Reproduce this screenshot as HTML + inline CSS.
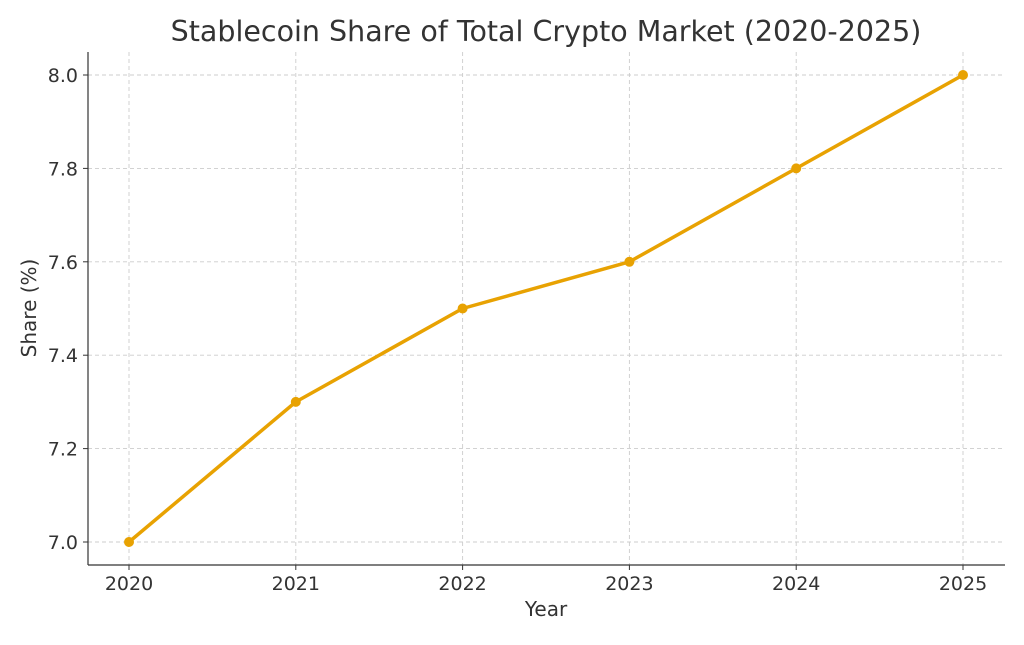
<!DOCTYPE html>
<html><head><meta charset="utf-8"><style>
body{margin:0;background:#fff;}
svg text{font-family:"DejaVu Sans","Liberation Sans",sans-serif;fill:#333;}
</style></head><body>
<svg width="1024" height="640" viewBox="0 0 1024 640" id="chart">
<text x="546" y="41" font-size="28.5" text-anchor="middle">Stablecoin Share of Total Crypto Market (2020-2025)</text>
<g id="grid"></g>
<g id="ticks"></g>
<line x1="88" y1="52" x2="88" y2="565" stroke="#333" stroke-width="1.2"/>
<line x1="88" y1="565" x2="1005" y2="565" stroke="#333" stroke-width="1.2"/>
<g id="series"></g>
<text x="546" y="616" font-size="20" text-anchor="middle">Year</text>
<text x="36" y="308" font-size="20" text-anchor="middle" transform="rotate(-90 36 308)">Share (%)</text>
</svg>
<script>
const years = [2020, 2021, 2022, 2023, 2024, 2025];
const shares = [7.0, 7.3, 7.5, 7.6, 7.8, 8.0];
const yTicks = [7.0, 7.2, 7.4, 7.6, 7.8, 8.0];
const NS = "http://www.w3.org/2000/svg";
function xs(v){ return 129 + (v - 2020) * (963 - 129) / 5; }
function ys(v){ return 542 - (v - 7.0) * (542 - 75) / 1.0; }
function mk(tag, attrs, parent){ const e = document.createElementNS(NS, tag); for (const k in attrs) e.setAttribute(k, attrs[k]); document.getElementById(parent).appendChild(e); return e; }
yTicks.forEach(t => {
  const g = mk('line', {x1:88, x2:1005, y1:ys(t), y2:ys(t), stroke:'#ccc', 'stroke-dasharray':'4,3', 'stroke-width':0.9}, 'grid');
  
  
  const tk = mk('line', {x1:83, x2:88, y1:ys(t), y2:ys(t), stroke:'#333'}, 'ticks');
  
  
  const lb = mk('text', {x:78, y:ys(t)+7, 'font-size':19, 'text-anchor':'end'}, 'ticks');
  lb.textContent = t.toFixed(1);
  
  
});
years.forEach(yr => {
  const g = mk('line', {x1:xs(yr), x2:xs(yr), y1:52, y2:565, stroke:'#ccc', 'stroke-dasharray':'4,3', 'stroke-width':0.9}, 'grid');
  
  
  const tk = mk('line', {x1:xs(yr), x2:xs(yr), y1:565, y2:570, stroke:'#333'}, 'ticks');
  
  
  const lb = mk('text', {x:xs(yr), y:590, 'font-size':19, 'text-anchor':'middle'}, 'ticks');
  lb.textContent = yr;
  
  
});
const pts = years.map((yr,i) => xs(yr) + ',' + ys(shares[i])).join(' ');
const line = mk('polyline', {points:pts, fill:'none', stroke:'#E8A202', 'stroke-width':3.5, 'stroke-linejoin':'round'}, 'series');


years.forEach((yr,i) => {
  const c = mk('circle', {cx:xs(yr), cy:ys(shares[i]), r:5, fill:'#E8A202'}, 'series');
  
  
});
</script>
</body></html>
